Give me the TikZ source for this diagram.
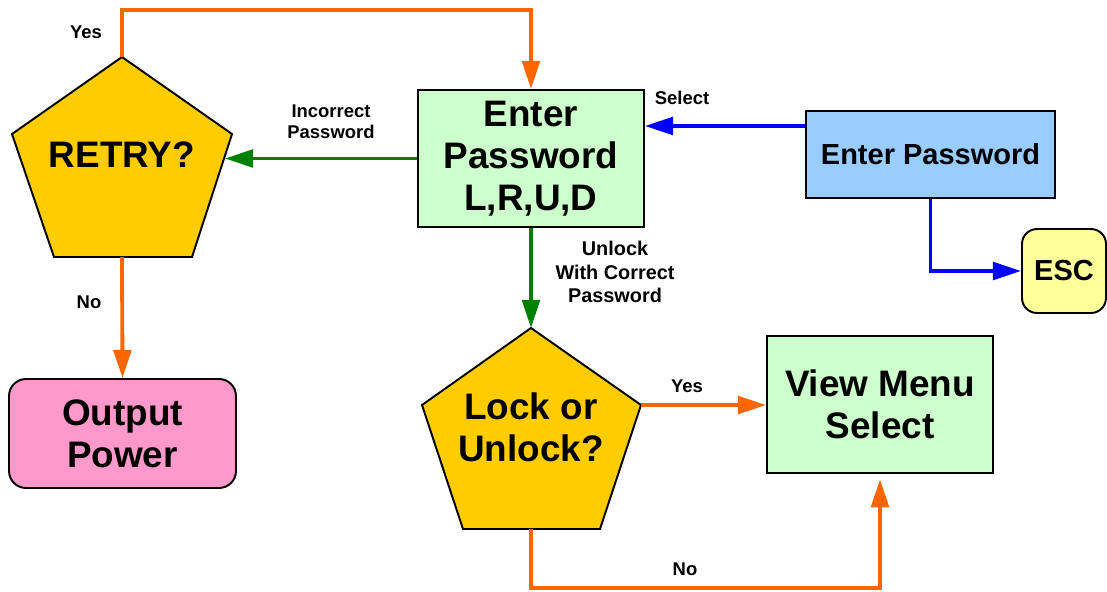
\documentclass[tikz,border=0pt]{standalone}
\usepackage{fontspec}
\setmainfont{Liberation Sans}
\usetikzlibrary{arrows.meta}
\definecolor{lineorange}{HTML}{FF6600}
\definecolor{linegreen}{HTML}{008000}
\definecolor{lineblue}{HTML}{0000FF}
\definecolor{pentyellow}{HTML}{FFCC00}
\definecolor{boxgreen}{HTML}{CCFFCC}
\definecolor{boxblue}{HTML}{99CCFF}
\definecolor{boxpink}{HTML}{FF99CC}
\definecolor{boxyellow}{HTML}{FFFF99}
\begin{document}
\begin{tikzpicture}[x=0.02cm,y=-0.02cm,
    box/.style={draw=black,line width=1.1pt,align=center,inner sep=0pt},
    big/.style={font=\fontsize{21}{24}\selectfont\bfseries,align=center},
    mid/.style={font=\fontsize{16.5}{19}\selectfont\bfseries},
    lbl/.style={font=\fontsize{10.5}{11.8}\selectfont\bfseries,align=center},
    decision/.style={draw=black,line width=1.1pt,fill=pentyellow},
    oline/.style={lineorange,line width=2.2pt,-{Triangle[length=16pt,width=10pt]}},
    gline/.style={linegreen,line width=2.2pt,-{Triangle[length=16pt,width=10pt]}},
    bline/.style={lineblue,line width=2.2pt,-{Triangle[length=16pt,width=10pt]}}]
    \useasboundingbox(0,0)rectangle(1107,592);
    % pentagons
    \draw[decision](122,57)coordinate(rt)--(232,134)--(192,257)--(54,257)--(12,134)--cycle;
    \coordinate(rb)at(122,257);
    \coordinate(retryin)at(225,158.5);
    \draw[decision](531,328)coordinate(lt)--(641,405)coordinate(lr)--(600,529)--(463,529)--(422,405)--cycle;
    \coordinate(lb)at(531,529);
    \node[big](retry)at(122,155){RETRY?};
    \node[big](lock)at(531,427){Lock or\\Unlock?};
    % boxes
    \node[box,big,fill=boxgreen,minimum width=4.52cm,minimum height=2.74cm](enter)at(531,158.5){Enter\\Password\\L,R,U,D};
    \node[box,big,fill=boxgreen,minimum width=4.52cm,minimum height=2.74cm](view)at(880,404.5){View Menu\\Select};
    \node[box,mid,fill=boxblue,minimum width=4.98cm,minimum height=1.74cm](keypad)at(930.5,154.5){Enter Password};
    \node[box,mid,fill=boxyellow,rounded corners=0.3cm,minimum width=1.68cm,minimum height=1.68cm](esc)at(1064,271){ESC};
    \node[box,big,fill=boxpink,rounded corners=0.34cm,minimum width=4.54cm,minimum height=2.18cm](output)at(122.5,433.5){Output\\Power};
    % connectors
    \coordinate(ytop)at(122,10);
    \draw[oline](rt)--(ytop)-|(enter.north);
    \draw[oline](rb)--(output.north);
    \draw[gline](enter.west)--(retryin);
    \draw[bline](keypad.west|-0,126)--(enter.east|-0,126);
    \draw[bline](keypad.south)|-(esc.west);
    \draw[gline](enter.south)--(lt);
    \draw[oline](lr)--(view.west|-lr);
    \draw[oline,shorten >=3pt](lb)--++(0,59)-|(view.south);
    % labels
    \node[lbl](yes1)at(86,32){Yes};
    \node[lbl](no1)at(89,302){No};
    \node[lbl](wrong)at(331,122){Incorrect\\Password};
    \node[lbl](sel)at(682,98){Select};
    \node[lbl,font=\fontsize{11.3}{13.6}\selectfont\bfseries](right)at(615,272){Unlock\\With Correct\\Password};
    \node[lbl](yes2)at(687,386){Yes};
    \node[lbl](no2)at(685,569){No};
\end{tikzpicture}
\end{document}
